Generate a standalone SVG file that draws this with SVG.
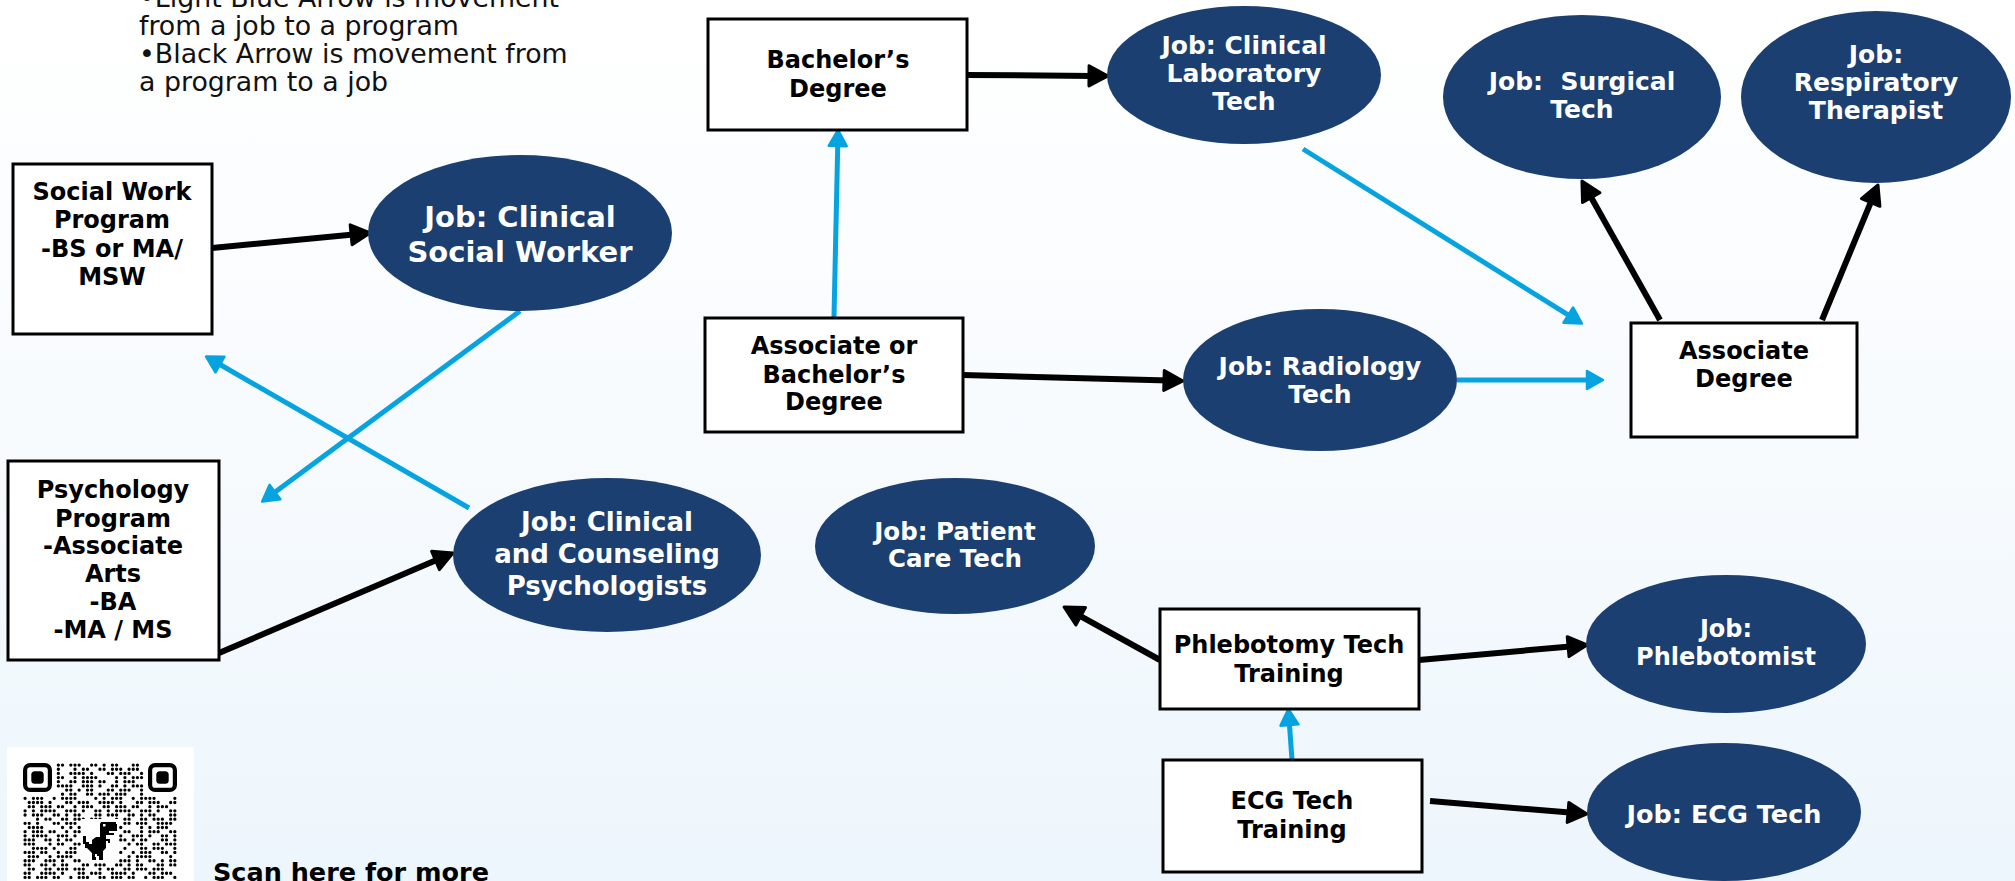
<svg xmlns="http://www.w3.org/2000/svg" width="2015" height="881" viewBox="0 0 2015 881">
<defs>
<linearGradient id="bg" x1="0" y1="0" x2="0" y2="1">
<stop offset="0" stop-color="#ffffff"/>
<stop offset="0.45" stop-color="#f8fbfe"/>
<stop offset="1" stop-color="#edf6fc"/>
</linearGradient>
<marker id="ahB" markerUnits="userSpaceOnUse" markerWidth="26" markerHeight="26" viewBox="0 0 26 26" refX="8" refY="13" orient="auto">
<path d="M3,3 L22,13 L3,23 Z" fill="#000" stroke="#000" stroke-width="3" stroke-linejoin="round"/>
</marker>
<marker id="ahL" markerUnits="userSpaceOnUse" markerWidth="24" markerHeight="24" viewBox="0 0 24 24" refX="7" refY="12" orient="auto">
<path d="M3,3 L19,12 L3,21 Z" fill="#05a3df" stroke="#05a3df" stroke-width="2.5" stroke-linejoin="round"/>
</marker>
<style>
.box{fill:#fff;stroke:#000;stroke-width:3}
.job{fill:#1b3f71}
.bt{font-family:"DejaVu Sans","Liberation Sans",sans-serif;font-weight:bold;font-size:24px;fill:#000;text-anchor:middle}
.jt{font-family:"DejaVu Sans","Liberation Sans",sans-serif;font-weight:bold;font-size:25px;fill:#fff;text-anchor:middle;white-space:pre}
.lg{font-family:"DejaVu Sans","Liberation Sans",sans-serif;font-size:26.8px;fill:#111}
.blk{stroke:#000;stroke-width:6;fill:none;marker-end:url(#ahB)}
.blu{stroke:#05a3df;stroke-width:5;fill:none;marker-end:url(#ahL)}
.qd{stroke:#000;stroke-width:3.3;stroke-linecap:round;fill:none}
.pA{stroke-dasharray:0 4.16 0 8.32 0 4.16 0 4.16 0 12.48 0 4.16 0 8.32 0 8.32 0 4.16 0 16.64}
.pB{stroke-dasharray:0 8.32 0 4.16 0 4.16 0 12.48 0 8.32 0 4.16 0 4.16 0 4.16 0 20.8 0 8.32}
.pC{stroke-dasharray:0 4.16 0 4.16 0 16.64 0 8.32 0 4.16 0 12.48 0 4.16 0 8.32 0 4.16 0 4.16 0 8.32}
.pD{stroke-dasharray:0 12.48 0 4.16 0 8.32 0 4.16 0 4.16 0 8.32 0 4.16 0 12.48 0 8.32 0 4.16 0 4.16}
.pE{stroke-dasharray:0 4.16 0 12.48 0 4.16 0 4.16 0 4.16 0 8.32 0 16.64 0 4.16 0 8.32 0 4.16}
.pF{stroke-dasharray:0 8.32 0 8.32 0 4.16 0 4.16 0 4.16 0 12.48 0 4.16 0 4.16 0 8.32 0 12.48 0 4.16}
</style>
</defs>
<rect x="0" y="0" width="2015" height="881" fill="url(#bg)"/>

<g id="legend">
<text class="lg" x="139" y="7">•Light Blue Arrow is movement</text>
<text class="lg" x="139" y="35">from a job to a program</text>
<text class="lg" x="139" y="63">•Black Arrow is movement from</text>
<text class="lg" x="139" y="91">a program to a job</text>
</g>

<g id="connectors">
<line class="blk" x1="212" y1="248" x2="356.1" y2="234.3"/>
<line class="blk" x1="219" y1="653" x2="440.1" y2="558.5"/>
<line class="blk" x1="966" y1="75" x2="1094" y2="75.9"/>
<line class="blk" x1="963" y1="375" x2="1169" y2="380.6"/>
<line class="blk" x1="1660" y1="320" x2="1588.8" y2="193.2"/>
<line class="blk" x1="1822" y1="320" x2="1872.6" y2="197.9"/>
<line class="blk" x1="1160" y1="660" x2="1076.3" y2="613.8"/>
<line class="blk" x1="1419" y1="660" x2="1573.1" y2="646.2"/>
<line class="blk" x1="1430" y1="801" x2="1573" y2="812.8"/>
<line class="blu" x1="520" y1="311" x2="271.8" y2="494.5"/>
<line class="blu" x1="469" y1="508" x2="216.5" y2="362.5"/>
<line class="blu" x1="834" y1="317" x2="837.8" y2="142"/>
<line class="blu" x1="1303" y1="149" x2="1571.7" y2="317.2"/>
<line class="blu" x1="1457" y1="380" x2="1591" y2="380"/>
<line class="blu" x1="1292" y1="760" x2="1289.2" y2="721"/>
</g>

<g id="social-work-program">
<rect class="box" x="13" y="164" width="199" height="170"/>
<text class="bt" x="112" y="200">Social Work</text>
<text class="bt" x="112" y="228">Program</text>
<text class="bt" x="112" y="257">-BS or MA/</text>
<text class="bt" x="112" y="285">MSW</text>
</g>

<g id="job-clinical-social-worker">
<ellipse class="job" cx="520" cy="233" rx="152" ry="78"/>
<text class="jt" x="520" y="227" style="font-size:29px">Job: Clinical</text>
<text class="jt" x="520" y="262" style="font-size:29px">Social Worker</text>
</g>

<g id="psychology-program">
<rect class="box" x="8" y="461" width="211" height="199"/>
<text class="bt" x="113" y="498">Psychology</text>
<text class="bt" x="113" y="527">Program</text>
<text class="bt" x="113" y="554">-Associate</text>
<text class="bt" x="113" y="582">Arts</text>
<text class="bt" x="113" y="610">-BA</text>
<text class="bt" x="113" y="638">-MA / MS</text>
</g>

<g id="job-psychologists">
<ellipse class="job" cx="607" cy="555" rx="154" ry="77"/>
<text class="jt" x="607" y="531" style="font-size:26px">Job: Clinical</text>
<text class="jt" x="607" y="563" style="font-size:26px">and Counseling</text>
<text class="jt" x="607" y="595" style="font-size:26px">Psychologists</text>
</g>

<g id="bachelors-degree">
<rect class="box" x="708" y="19" width="259" height="111"/>
<text class="bt" x="838" y="68">Bachelor’s</text>
<text class="bt" x="838" y="97">Degree</text>
</g>

<g id="job-clinical-lab-tech">
<ellipse class="job" cx="1244" cy="75" rx="137" ry="69"/>
<text class="jt" x="1244" y="54">Job: Clinical</text>
<text class="jt" x="1244" y="82">Laboratory</text>
<text class="jt" x="1244" y="110">Tech</text>
</g>

<g id="associate-or-bachelors">
<rect class="box" x="705" y="318" width="258" height="114"/>
<text class="bt" x="834" y="354">Associate or</text>
<text class="bt" x="834" y="383">Bachelor’s</text>
<text class="bt" x="834" y="410">Degree</text>
</g>

<g id="job-radiology-tech">
<ellipse class="job" cx="1320" cy="380" rx="137" ry="71"/>
<text class="jt" x="1320" y="375">Job: Radiology</text>
<text class="jt" x="1320" y="403">Tech</text>
</g>

<g id="job-surgical-tech">
<ellipse class="job" cx="1582" cy="97" rx="139" ry="82"/>
<text class="jt" x="1582" y="90">Job:  Surgical</text>
<text class="jt" x="1582" y="118">Tech</text>
</g>

<g id="job-respiratory-therapist">
<ellipse class="job" cx="1876" cy="97" rx="135" ry="86"/>
<text class="jt" x="1876" y="63">Job:</text>
<text class="jt" x="1876" y="91">Respiratory</text>
<text class="jt" x="1876" y="119">Therapist</text>
</g>

<g id="associate-degree">
<rect class="box" x="1631" y="323" width="226" height="114"/>
<text class="bt" x="1744" y="359">Associate</text>
<text class="bt" x="1744" y="387">Degree</text>
</g>

<g id="job-patient-care-tech">
<ellipse class="job" cx="955" cy="546" rx="140" ry="68"/>
<text class="jt" x="955" y="540" style="font-size:24.5px">Job: Patient</text>
<text class="jt" x="955" y="567" style="font-size:24.5px">Care Tech</text>
</g>

<g id="phlebotomy-training">
<rect class="box" x="1160" y="609" width="259" height="100"/>
<text class="bt" x="1289" y="653">Phlebotomy Tech</text>
<text class="bt" x="1289" y="682">Training</text>
</g>

<g id="job-phlebotomist">
<ellipse class="job" cx="1726" cy="644" rx="140" ry="69"/>
<text class="jt" x="1726" y="637" style="font-size:24px">Job:</text>
<text class="jt" x="1726" y="665" style="font-size:24px">Phlebotomist</text>
</g>

<g id="ecg-training">
<rect class="box" x="1163" y="760" width="259" height="112"/>
<text class="bt" x="1292" y="809">ECG Tech</text>
<text class="bt" x="1292" y="838">Training</text>
</g>

<g id="job-ecg-tech">
<ellipse class="job" cx="1724" cy="812" rx="137" ry="69"/>
<text class="jt" x="1724" y="823" style="font-size:25.5px">Job: ECG Tech</text>
</g>

<g id="qr-code">
<rect x="7" y="747" width="187" height="140" fill="#fff"/>
<rect x="25.1" y="765.1" width="24.8" height="24.8" rx="5" fill="none" stroke="#000" stroke-width="4.2"/>
<rect x="31.3" y="771.3" width="12.4" height="12.4" rx="3.5" fill="#000"/>
<rect x="150.1" y="765.1" width="24.8" height="24.8" rx="5" fill="none" stroke="#000" stroke-width="4.2"/>
<rect x="156.3" y="771.3" width="12.4" height="12.4" rx="3.5" fill="#000"/>
<g class="qd">
<line class="pA" x1="58.36" y1="765.08" x2="141.7" y2="765.08" stroke-dashoffset="0"/>
<line class="pC" x1="58.36" y1="769.24" x2="141.7" y2="769.24" stroke-dashoffset="8.32"/>
<line class="pE" x1="58.36" y1="773.40" x2="141.7" y2="773.40" stroke-dashoffset="4.16"/>
<line class="pB" x1="58.36" y1="777.56" x2="141.7" y2="777.56" stroke-dashoffset="12.48"/>
<line class="pD" x1="58.36" y1="781.72" x2="141.7" y2="781.72" stroke-dashoffset="0"/>
<line class="pF" x1="58.36" y1="785.88" x2="141.7" y2="785.88" stroke-dashoffset="16.64"/>
<line class="pA" x1="58.36" y1="790.04" x2="141.7" y2="790.04" stroke-dashoffset="24.96"/>
<line class="pC" x1="58.36" y1="794.20" x2="141.7" y2="794.20" stroke-dashoffset="20.8"/>
<line class="pB" x1="25.08" y1="798.36" x2="174.9" y2="798.36" stroke-dashoffset="0"/>
<line class="pE" x1="25.08" y1="802.52" x2="174.9" y2="802.52" stroke-dashoffset="12.48"/>
<line class="pD" x1="25.08" y1="806.68" x2="174.9" y2="806.68" stroke-dashoffset="8.32"/>
<line class="pF" x1="25.08" y1="810.84" x2="174.9" y2="810.84" stroke-dashoffset="0"/>
<line class="pA" x1="25.08" y1="815.00" x2="174.9" y2="815.00" stroke-dashoffset="4.16"/>
<line class="pC" x1="25.08" y1="819.16" x2="174.9" y2="819.16" stroke-dashoffset="12.48"/>
<line class="pE" x1="25.08" y1="823.32" x2="174.9" y2="823.32" stroke-dashoffset="24.96"/>
<line class="pB" x1="25.08" y1="827.48" x2="174.9" y2="827.48" stroke-dashoffset="33.28"/>
<line class="pD" x1="25.08" y1="831.64" x2="174.9" y2="831.64" stroke-dashoffset="16.64"/>
<line class="pF" x1="25.08" y1="835.80" x2="174.9" y2="835.80" stroke-dashoffset="8.32"/>
<line class="pA" x1="25.08" y1="839.96" x2="174.9" y2="839.96" stroke-dashoffset="12.48"/>
<line class="pC" x1="25.08" y1="844.12" x2="174.9" y2="844.12" stroke-dashoffset="0"/>
<line class="pE" x1="25.08" y1="848.28" x2="174.9" y2="848.28" stroke-dashoffset="8.32"/>
<line class="pD" x1="25.08" y1="852.44" x2="174.9" y2="852.44" stroke-dashoffset="24.96"/>
<line class="pB" x1="25.08" y1="856.60" x2="174.9" y2="856.60" stroke-dashoffset="4.16"/>
<line class="pF" x1="25.08" y1="860.76" x2="174.9" y2="860.76" stroke-dashoffset="20.8"/>
<line class="pA" x1="25.08" y1="864.92" x2="174.9" y2="864.92" stroke-dashoffset="16.64"/>
<line class="pC" x1="25.08" y1="869.08" x2="174.9" y2="869.08" stroke-dashoffset="29.12"/>
<line class="pE" x1="25.08" y1="873.24" x2="174.9" y2="873.24" stroke-dashoffset="0"/>
<line class="pD" x1="25.08" y1="877.40" x2="174.9" y2="877.40" stroke-dashoffset="12.48"/>
</g>
<rect x="81" y="819" width="38" height="44" fill="#fff"/>
<g transform="translate(83,822)">
<path d="M18,0 H33 V2 H34 V9 H26 V11 H31 V13 H23 V17 H27 V21 H25 V19 H23 V26 L20,29 V38 H16 V34 H14 V32 H12 V35 H13 V38 H9 V31 L4,26 H2 V22 H0 V14 H3 V20 H6 V22 H9 V18 L13,15 H17 V2 Z" fill="#000"/>
<rect x="20" y="2" width="2.5" height="2.5" fill="#fff"/>
</g>
</g>

<text x="213" y="881" style="font-family:'DejaVu Sans','Liberation Sans',sans-serif;font-weight:bold;font-size:25.5px;fill:#000">Scan here for more</text>
</svg>
